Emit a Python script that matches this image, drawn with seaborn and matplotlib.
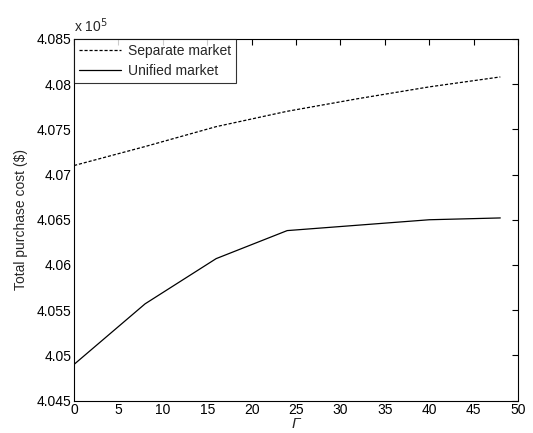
import matplotlib
matplotlib.use("Agg")
import matplotlib.pyplot as plt
import seaborn as sns
import pandas as pd

gamma = [0, 8, 16, 24, 32, 40, 48]
separate = [4.0710, 4.0731, 4.0753, 4.0770, 4.0784, 4.0797, 4.0808]
unified = [4.0490, 4.0557, 4.0607, 4.0638, 4.0644, 4.0650, 4.0652]
series_names = ["Separate market", "Unified market"]

df = pd.DataFrame({
    "gamma": gamma * 2,
    "cost": separate + unified,
    "series": [series_names[0]] * len(gamma) + [series_names[1]] * len(gamma),
})

sns.set_theme(style="white")
plt.rcParams['font.family'] = ['Liberation Sans', 'DejaVu Sans']

fig = plt.figure(figsize=(5.33, 4.33), dpi=100)
ax = fig.add_axes([0.139, 0.075, 0.833, 0.835])
sns.lineplot(data=df, x="gamma", y="cost", hue="series", style="series",
             palette=["black", "black"], dashes={series_names[0]: (2.5, 1.5), series_names[1]: ""},
             linewidth=0.9, ax=ax, legend=True)

ax.set_xlim(0, 50)
ax.set_ylim(4.045, 4.085)
xt = list(range(0, 51, 5))
ax.set_xticks(xt)
ax.set_xticklabels([str(v) for v in xt], fontsize=10)
yt = [4.045, 4.05, 4.055, 4.06, 4.065, 4.07, 4.075, 4.08, 4.085]
ax.set_yticks(yt)
ax.set_yticklabels([f"{v:g}" for v in yt], fontsize=10)
ax.tick_params(direction="in", length=4, width=0.8, top=True, right=True, pad=2, colors="black")
for s in ax.spines.values():
    s.set_color("black")
    s.set_linewidth(0.8)

ax.set_xlabel("Γ", fontsize=11, fontstyle="italic", labelpad=0)
ax.set_ylabel("Total purchase cost ($)", fontsize=10, labelpad=6)
ax.text(0.0, 1.01, r"x 10$^{5}$", transform=ax.transAxes, fontsize=10, va="bottom", ha="left")

leg = ax.legend(loc="upper left", fontsize=10, frameon=True, fancybox=False,
                borderaxespad=0, handlelength=3.0, handletextpad=0.5,
                borderpad=0.35, labelspacing=0.45)
leg.get_frame().set_edgecolor("black")
leg.get_frame().set_linewidth(0.8)

fig.savefig("out.png", dpi=100, facecolor="white")
